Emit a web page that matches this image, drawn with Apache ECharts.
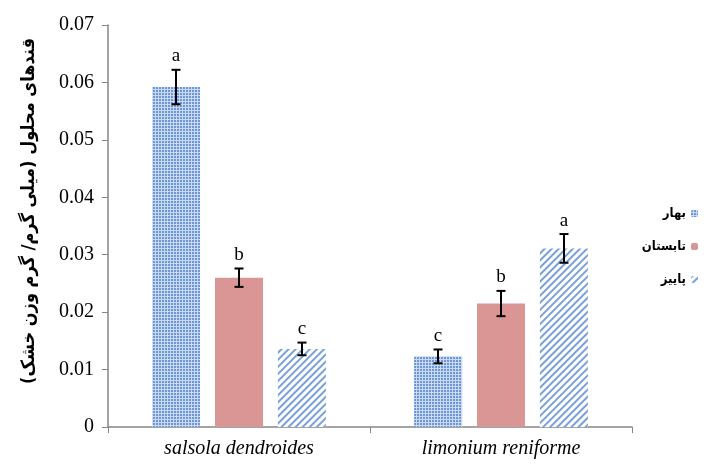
<!DOCTYPE html>
<html>
<head>
<meta charset="utf-8">
<title>Soluble sugars</title>
<script src="https://cdn.jsdelivr.net/npm/echarts@6/dist/echarts.min.js"></script>
<style>body{margin:0;background:#fff}</style>
</head>
<body>
<div id="chart" style="width:711px;height:464px;"></div>
<script>
// categories and seasons
var categories = ['salsola dendroides', 'limonium reniforme'];
var seasons = ['بهار', 'تابستان', 'پاییز'];
// means
var bahar = [0.0592, 0.0123];
var tabestan = [0.0260, 0.0215];
var paeez = [0.0136, 0.0311];
// standard errors
var baharErr = [0.0030, 0.0012];
var tabestanErr = [0.0016, 0.0022];
var paeezErr = [0.0011, 0.0025];
// significance letters
var baharLetters = ['a', 'c'];
var tabestanLetters = ['b', 'b'];
var paeezLetters = ['c', 'a'];

var BAR_W = 48, STEP = 63;

function errSeries(name, vals, errs, letters, k){
    return {
        name: name + '_err', type: 'custom', z: 10, clip: false,
        data: vals.map(function(v, i){ return [i, v, errs[i], letters[i]]; }),
        renderItem: function(params, api){
            var c = api.coord([api.value(0), api.value(1)]);
            var x = c[0] + (k - 1) * STEP;
            var hi = api.coord([api.value(0), api.value(1) + api.value(2)])[1];
            var lo = api.coord([api.value(0), api.value(1) - api.value(2)])[1];
            var st = {stroke: '#000', lineWidth: 2};
            return {type: 'group', children: [
                {type: 'line', shape: {x1: x, y1: hi, x2: x, y2: lo}, style: st},
                {type: 'line', shape: {x1: x - 4.5, y1: hi, x2: x + 4.5, y2: hi}, style: st},
                {type: 'line', shape: {x1: x - 4.5, y1: lo, x2: x + 4.5, y2: lo}, style: st},
                {type: 'text', style: {text: api.value(3), x: x, y: hi - 4, textAlign: 'center',
                    textVerticalAlign: 'bottom', font: '19px "Liberation Serif"', fill: '#000'}}
            ]};
        }
    };
}

var chart = echarts.init(document.getElementById('chart'));
chart.setOption({
    animation: false,
    grid: {left: 108, right: 79, top: 25, bottom: 37},
    legend: {
        data: seasons, orient: 'vertical', right: 8, top: 202, align: 'right',
        itemWidth: 7, itemHeight: 7, itemGap: 20,
        textStyle: {fontFamily: '"DejaVu Sans Condensed", "DejaVu Sans"', fontSize: 13, fontWeight: 'bold', color: '#000'}
    },
    xAxis: {
        type: 'category', data: categories,
        axisLine: {lineStyle: {color: '#868686', width: 1.5}},
        axisTick: {show: true, length: 6, lineStyle: {color: '#868686'}},
        axisLabel: {fontFamily: 'Liberation Serif', fontStyle: 'italic', fontSize: 20, color: '#000', margin: 12}
    },
    yAxis: {
        type: 'value', min: 0, max: 0.07, interval: 0.01,
        name: '\u200Fقندهای محلول (میلی گرم/ گرم وزن خشک)\u200F',
        nameLocation: 'middle', nameRotate: 90, nameGap: 70,
        nameTextStyle: {fontFamily: '"DejaVu Sans Condensed", "DejaVu Sans"', fontSize: 18, fontWeight: 'bold', color: '#000',
            padding: [0, 0, 0, 30]},
        splitLine: {show: false},
        axisLine: {show: true, lineStyle: {color: '#868686', width: 1.5}},
        axisTick: {show: true, length: 6, lineStyle: {color: '#868686'}},
        axisLabel: {fontFamily: 'Liberation Serif', fontSize: 20, color: '#000', margin: 14,
            formatter: function(v){ return v === 0 ? '0' : v.toFixed(2); }}
    },
    series: [
        {name: seasons[0], type: 'bar', data: bahar, barWidth: BAR_W, barGap: '31%',
            itemStyle: {color: '#cbd9ef', decal: {symbol: 'rect', symbolSize: 1, dashArrayX: [2, 1], dashArrayY: [2, 1], color: '#6b97d6'}}},
        {name: seasons[1], type: 'bar', data: tabestan, barWidth: BAR_W,
            itemStyle: {color: '#d99694'}},
        {name: seasons[2], type: 'bar', data: paeez, barWidth: BAR_W,
            itemStyle: {color: '#ffffff', decal: {symbol: 'rect', symbolSize: 1, dashArrayX: [1, 0], dashArrayY: [1.5, 2.5], rotation: -Math.PI / 4, color: '#7aa0da'}}},
        errSeries(seasons[0], bahar, baharErr, baharLetters, 0),
        errSeries(seasons[1], tabestan, tabestanErr, tabestanLetters, 1),
        errSeries(seasons[2], paeez, paeezErr, paeezLetters, 2)
    ]
});
</script>
</body>
</html>
